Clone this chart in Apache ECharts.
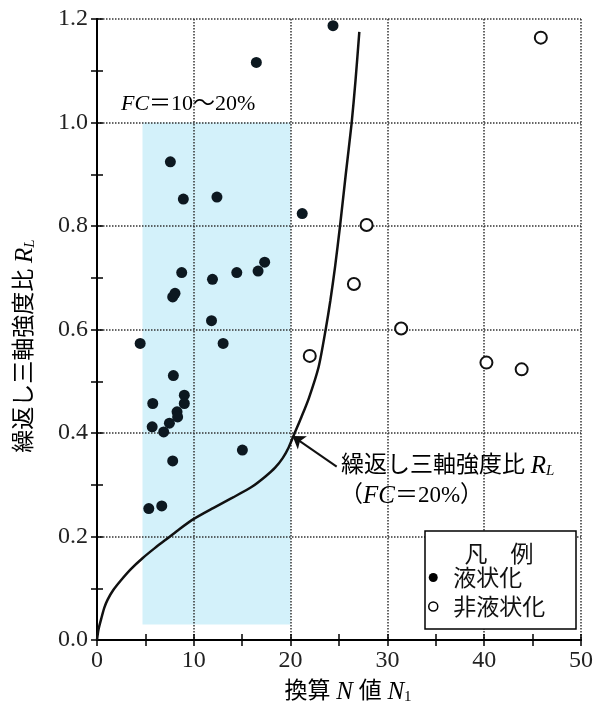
<!DOCTYPE html>
<html>
<head>
<meta charset="utf-8"/>
<script src="https://cdn.jsdelivr.net/npm/echarts@6/dist/echarts.min.js"></script>
<style>
html,body{margin:0;padding:0;background:#fff;}
#chart{width:596px;height:709px;}
</style>
</head>
<body>
<div id="chart"></div>
<script>
// liquefied points (filled) [N1, RL]
var liqPts = [
  [16.46,1.116],[7.58,0.924],[8.92,0.852],[12.39,0.856],[24.38,1.187],[21.2,0.824],
  [8.75,0.71],[7.82,0.663],[8.06,0.670],[11.93,0.697],[14.44,0.71],[16.64,0.713],[17.32,0.73],
  [11.83,0.617],[13.03,0.573],[4.46,0.573],[7.89,0.511],[9.02,0.473],[9.02,0.457],[5.76,0.457],
  [8.27,0.441],[8.33,0.431],[5.70,0.412],[7.48,0.419],[6.89,0.402],[15.02,0.367],[7.82,0.346],
  [5.35,0.254],[6.69,0.259]
];
// non-liquefied points (open)
var nonLiqPts = [
  [27.85,0.802],[45.85,1.164],[26.54,0.688],[31.42,0.602],[21.98,0.549],[40.23,0.536],[43.87,0.523]
];
// RL curve (FC=20%)
var curvePts = [
  [0,0],[0.15,0.02],[0.45,0.042],[0.75,0.062],[1.1,0.078],[1.7,0.097],[2.5,0.116],[3.5,0.137],
  [4.7,0.158],[6,0.178],[7.2,0.195],[8.5,0.214],[10,0.234],[12,0.255],[14,0.275],[16,0.296],
  [17.4,0.316],[18.4,0.333],[19.2,0.352],[19.8,0.372],[20.4,0.399],[21.1,0.43],[21.9,0.468],
  [22.9,0.528],[23.65,0.603],[24.1,0.655],[24.6,0.722],[25.1,0.799],[25.7,0.9],[26.3,0.998],
  [26.7,1.08],[27.1,1.175]
];
// FC = 10~20% band [xmin, ymin, xmax, ymax]
var fcBand = [[4.7, 0.03, 20, 1.0]];
// arrow from label to curve
var arrowFrom = [24.76, 0.335];
var arrowTo = [20.2, 0.394];

var legendNames = ['液状化','非液状化'];
var serif = "'Liberation Serif','Noto Sans CJK JP'";

var chart = echarts.init(document.getElementById('chart'));

var lineOn = {show:true, lineStyle:{color:'#000', width:2}};
var tickIn = {show:true, inside:true, length:6, lineStyle:{color:'#000', width:1.5}};
var dotted = {show:true, lineStyle:{type:'dotted', color:'#333', width:1.5}};

var rich = {
  i:{fontFamily:'Liberation Serif', fontStyle:'italic', fontSize:25, color:'#111'},
  s:{fontFamily:'Liberation Serif', fontStyle:'italic', fontSize:15, verticalAlign:'bottom', padding:[9,0,0,0], color:'#111'},
  n:{fontFamily:'Liberation Serif', fontSize:15, verticalAlign:'bottom', padding:[9,0,0,0], color:'#111'},
  c:{fontFamily:serif, fontSize:23, color:'#111'},
  f:{fontFamily:'Liberation Serif', fontStyle:'italic', fontSize:22, color:'#111'},
  d:{fontFamily:serif, fontSize:22, color:'#111'}
};

chart.setOption({
  animation:false,
  grid:{left:97, right:13, top:19, bottom:69},
  xAxis:[
    {type:'value', min:0, max:50, interval:10, position:'bottom',
      axisLine:lineOn, axisTick:{show:false}, splitLine:dotted,
      axisLabel:{color:'#222', fontSize:24, fontFamily:'Liberation Serif', margin:9}},
    {type:'value', min:0, max:50, interval:5, position:'bottom',
      axisLine:{show:false}, axisTick:tickIn, splitLine:{show:false}, axisLabel:{show:false}},
    {type:'value', min:0, max:50, interval:5, position:'top',
      axisLine:lineOn, axisTick:tickIn, splitLine:{show:false}, axisLabel:{show:false}}
  ],
  yAxis:[
    {type:'value', min:0, max:1.2, interval:0.2, position:'left',
      axisLine:lineOn, axisTick:{show:false}, splitLine:dotted,
      axisLabel:{color:'#222', fontSize:24, fontFamily:'Liberation Serif', margin:9,
        formatter:function(v){return v.toFixed(1);}}},
    {type:'value', min:0, max:1.2, interval:0.1, position:'left',
      axisLine:{show:false}, axisTick:tickIn, splitLine:{show:false}, axisLabel:{show:false}},
    {type:'value', min:0, max:1.2, interval:0.1, position:'right',
      axisLine:lineOn, axisTick:tickIn, splitLine:{show:false}, axisLabel:{show:false}}
  ],
  legend:{
    show:true, orient:'vertical', left:428, top:566, padding:0,
    itemWidth:30, itemHeight:9, itemGap:6, z:6,
    textStyle:{fontSize:23, fontFamily:'Noto Sans CJK JP', color:'#111'},
    data:[
      {name:legendNames[0], icon:'circle', itemStyle:{color:'#000'}},
      {name:legendNames[1], icon:'circle', itemStyle:{color:'#fff', borderColor:'#000', borderWidth:1.5}}
    ]
  },
  graphic:[
    {type:'rect', z:5, shape:{x:425, y:531, width:151, height:98},
      style:{fill:'#fff', stroke:'#000', lineWidth:1.5}},
    {type:'text', z:7, x:499, y:553,
      style:{text:'凡　例', font:"23px 'Noto Sans CJK JP'", fill:'#111', align:'center', verticalAlign:'middle'}},
    {type:'text', z:7, x:121, y:104,
      style:{text:'{f|FC}{d|＝10～20%}', align:'left', verticalAlign:'middle', rich:rich}},
    {type:'text', z:7, x:341, y:466,
      style:{text:'{c|繰返し三軸強度比 }{i|R}{s|L}', align:'left', verticalAlign:'middle', rich:rich}},
    {type:'text', z:7, x:340, y:496,
      style:{text:'{c|（}{i|FC}{c|＝20%）}', align:'left', verticalAlign:'middle', rich:rich}},
    {type:'text', z:7, x:348, y:692,
      style:{text:'{c|換算 }{i|N}{c| 値 }{i|N}{n|1}', align:'center', verticalAlign:'middle', rich:rich}},
    {type:'text', z:7, x:25, y:346, rotation:Math.PI/2,
      style:{text:'{c|繰返し三軸強度比 }{i|R}{s|L}', align:'center', verticalAlign:'middle', rich:rich}}
  ],
  series:[
    {
      type:'custom', name:'band', z:-1, silent:true,
      renderItem:function(params, api){
        var p1 = api.coord([api.value(0), api.value(3)]);
        var p2 = api.coord([api.value(2), api.value(1)]);
        return {type:'rect', shape:{x:p1[0], y:p1[1], width:p2[0]-p1[0], height:p2[1]-p1[1]},
          style:{fill:'#d3f1fa'}};
      },
      data:fcBand
    },
    {
      type:'line', name:'curve', data:curvePts, showSymbol:false, smooth:0.25,
      lineStyle:{color:'#111', width:2.5}, silent:true,
      markLine:{
        silent:true, symbol:['none','arrow'], symbolSize:12,
        lineStyle:{color:'#111', width:2, type:'solid'}, label:{show:false},
        data:[[{coord:arrowFrom},{coord:arrowTo}]]
      }
    },
    {
      type:'scatter', name:legendNames[0], data:liqPts, symbol:'circle', symbolSize:11,
      itemStyle:{color:'#0c1820', opacity:1}
    },
    {
      type:'scatter', name:legendNames[1], data:nonLiqPts, symbol:'circle', symbolSize:12,
      itemStyle:{color:'#fff', borderColor:'#111', borderWidth:2, opacity:1}
    }
  ]
});
</script>
</body>
</html>
